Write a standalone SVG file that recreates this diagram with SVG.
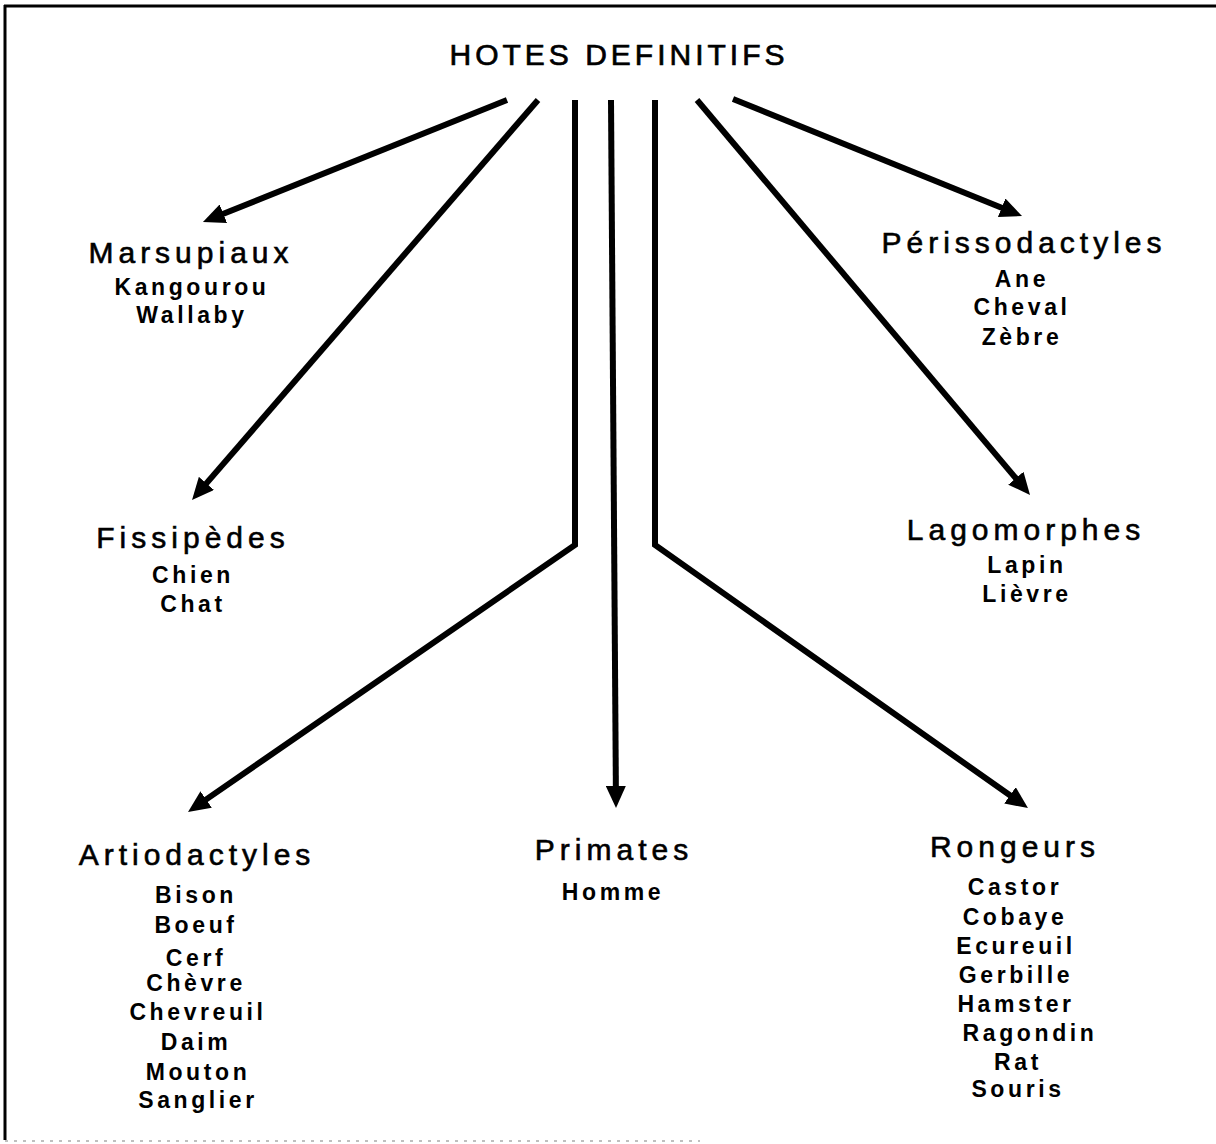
<svg xmlns="http://www.w3.org/2000/svg" width="1216" height="1144" viewBox="0 0 1216 1144">
  <style>
    text { font-family: "Liberation Sans", Arial, sans-serif; fill: #000; text-anchor: middle; }
    .title { font-size: 30px; letter-spacing: 4px; stroke: #000; stroke-width: 0.7; }
    .cat { font-size: 30px; letter-spacing: 5px; stroke: #000; stroke-width: 0.6; }
    .item { font-size: 23px; font-weight: bold; letter-spacing: 3.6px; }
    .link { fill: none; stroke: #000; stroke-width: 6; stroke-linejoin: miter; marker-end: url(#head); }
  </style>
  <defs>
    <marker id="head" viewBox="0 0 22 20" refX="6" refY="10" markerWidth="22" markerHeight="20" markerUnits="userSpaceOnUse" orient="auto">
      <path d="M0,0 L22,10 L0,20 Z" fill="#000"/>
    </marker>
  </defs>

  <rect width="1216" height="1144" fill="#fff"/>

  <!-- frame -->
  <g id="frame">
    <line x1="4" y1="6" x2="1216" y2="6" stroke="#000" stroke-width="3"/>
    <line x1="5" y1="5" x2="5" y2="1140" stroke="#000" stroke-width="3"/>
    <line x1="5" y1="1141" x2="700" y2="1141" stroke="#aaa" stroke-width="1.5" stroke-dasharray="3 6"/>
  </g>

  <g id="root">
    <text class="title" x="619" y="65">HOTES DEFINITIFS</text>
  </g>

  <!-- connectors -->
  <g id="connectors">
    <polyline class="link" points="507,100 217.8,216"/>
    <polyline class="link" points="538,100 202.5,487.9"/>
    <polyline class="link" points="575,100 575,545 201.2,802.9"/>
    <polyline class="link" points="611,100 615.9,792"/>
    <polyline class="link" points="655,100 655,545 1014.9,798.8"/>
    <polyline class="link" points="697,100 1019.7,482.8"/>
    <polyline class="link" points="733,99 1007.2,210"/>
  </g>

  <g id="marsupiaux">
    <text class="cat" x="191" y="263">Marsupiaux</text>
    <text class="item" x="192" y="295">Kangourou</text>
    <text class="item" x="192" y="323">Wallaby</text>
  </g>

  <g id="fissipedes">
    <text class="cat" x="193" y="548">Fissipèdes</text>
    <text class="item" x="193" y="583">Chien</text>
    <text class="item" x="193" y="612">Chat</text>
  </g>

  <g id="artiodactyles">
    <text class="cat" x="197" y="865">Artiodactyles</text>
    <text class="item" x="196" y="903">Bison</text>
    <text class="item" x="196" y="933">Boeuf</text>
    <text class="item" x="196" y="966">Cerf</text>
    <text class="item" x="196" y="991">Chèvre</text>
    <text class="item" x="198" y="1020">Chevreuil</text>
    <text class="item" x="196" y="1050">Daim</text>
    <text class="item" x="198" y="1080">Mouton</text>
    <text class="item" x="198" y="1108">Sanglier</text>
  </g>

  <g id="primates">
    <text class="cat" x="614" y="860">Primates</text>
    <text class="item" x="613" y="900">Homme</text>
  </g>

  <g id="rongeurs">
    <text class="cat" x="1015" y="857">Rongeurs</text>
    <text class="item" x="1015" y="895">Castor</text>
    <text class="item" x="1015" y="925">Cobaye</text>
    <text class="item" x="1016" y="954">Ecureuil</text>
    <text class="item" x="1016" y="983">Gerbille</text>
    <text class="item" x="1016" y="1012">Hamster</text>
    <text class="item" x="1030" y="1041">Ragondin</text>
    <text class="item" x="1018" y="1070">Rat</text>
    <text class="item" x="1018" y="1097">Souris</text>
  </g>

  <g id="perissodactyles">
    <text class="cat" x="1024" y="253">Périssodactyles</text>
    <text class="item" x="1022" y="287">Ane</text>
    <text class="item" x="1022" y="315">Cheval</text>
    <text class="item" x="1022" y="345">Zèbre</text>
  </g>

  <g id="lagomorphes">
    <text class="cat" x="1026" y="540">Lagomorphes</text>
    <text class="item" x="1027" y="573">Lapin</text>
    <text class="item" x="1027" y="602">Lièvre</text>
  </g>
</svg>
